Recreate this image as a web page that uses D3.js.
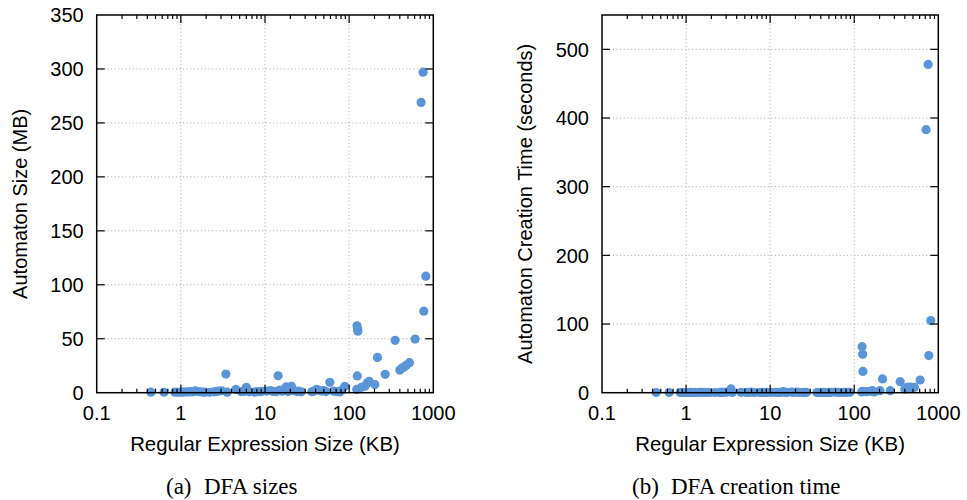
<!DOCTYPE html>
<html>
<head>
<meta charset="utf-8">
<script src="https://cdn.jsdelivr.net/npm/d3@7"></script>
<style>
  body { margin: 0; background: #fff; }
  svg text { font-family: "Liberation Sans", Arial, sans-serif; fill: #000; }
  .caption { font-family: "Liberation Serif", "Times New Roman", serif; }
</style>
</head>
<body>
<div id="chart"></div>
<script>
// regex size (KB) for each benchmark, with DFA size (MB) and DFA build time (s)
const sizesKB = [0.44, 0.63, 0.85, 0.92, 0.99, 1.05, 1.12, 1.2, 1.28, 1.35, 1.47, 1.55, 1.68, 1.8, 1.93,
  2.2, 2.5, 2.65, 2.8, 3.04, 3.43, 3.55, 4.5, 5.2, 5.6, 6.0, 6.5, 7.5, 8.0, 8.6, 9.2,
  10.4, 11.6, 12.5, 13.5, 14.3, 15, 16, 17.9, 18.8, 20.6, 22, 24, 25, 27,
  36, 38, 41, 44, 47, 50, 53, 59, 65, 71, 77, 82, 89,
  124, 126, 127, 125, 123, 140, 154, 164, 173, 202, 217, 268, 352,
  400, 425, 455, 480, 520, 608, 716, 757, 771, 815];
const dfaSizeMB = [0.5, 0.4, 0.5, 0.4, 0.6, 0.5, 0.8, 0.6, 1.0, 0.7, 1.6, 1.2, 0.9, 0.6, 0.5,
  0.4, 0.8, 1.0, 1.4, 1.8, 17.3, 0.5, 3.0, 1.0, 1.2, 5.0, 0.8, 0.6, 0.9, 1.0, 1.3,
  1.5, 2.0, 1.2, 0.9, 15.7, 2.5, 1.4, 5.5, 1.0, 6.0, 2.0, 1.0, 1.5, 0.8,
  0.9, 1.5, 3.0, 2.2, 1.5, 2.0, 1.0, 9.6, 1.5, 1.0, 0.7, 2.5, 6.0,
  62, 59, 57, 15.5, 3, 5, 6, 9, 10.5, 7.5, 32.7, 17, 48.5,
  21, 23, 24, 25.6, 27.8, 49.7, 269, 297, 75.5, 108];
const dfaTimeSec = [0.3, 0.3, 0.3, 0.3, 0.3, 0.3, 0.4, 0.3, 0.4, 0.3, 0.5, 0.4, 0.4, 0.3, 0.3,
  0.3, 0.4, 0.5, 0.6, 0.8, 5.5, 0.4, 0.6, 0.4, 0.5, 0.7, 0.3, 0.3, 0.4, 0.4, 0.4,
  0.4, 0.5, 0.4, 0.6, 1.5, 0.6, 0.5, 1.0, 0.4, 0.8, 0.5, 0.3, 0.4, 0.4,
  0.3, 0.3, 0.4, 0.4, 0.3, 0.4, 0.5, 0.8, 0.4, 0.3, 0.4, 0.5, 0.6,
  67, 56, 31, 2, 1, 1.5, 2, 3, 1, 3, 20, 3, 16,
  5, 7.8, 8, 7.8, 7.8, 18.5, 383, 478, 54, 105];

const xTickValues = [0.1, 1, 10, 100, 1000];
const xTickLabels = ["0.1", "1", "10", "100", "1000"];
const sizeTicks = [0, 50, 100, 150, 200, 250, 300, 350];
const timeTicks = [0, 100, 200, 300, 400, 500];

const width = 967;
const height = 500;
const dotColor = "#5b95d9";

const svg = d3.select("#chart")
  .append("svg")
  .attr("width", width)
  .attr("height", height);

function drawPanel(opts) {
  const { left, right, top, bottom, yMax, yTicks, yValues, yLabel, yLabelX, tag, caption, tagX, captionX } = opts;

  const x = d3.scaleLog().domain([0.1, 1000]).range([left, right]);
  const y = d3.scaleLinear().domain([0, yMax]).range([bottom, top]);

  const g = svg.append("g");

  // dotted grid at the inner major ticks
  const grid = g.append("g")
    .attr("stroke", "#b4b4b4")
    .attr("stroke-width", 1)
    .attr("stroke-dasharray", "1.2,2.4");
  grid.selectAll(".gx")
    .data(xTickValues.slice(1, -1))
    .enter().append("line")
    .attr("x1", d => x(d)).attr("x2", d => x(d))
    .attr("y1", bottom).attr("y2", top);
  grid.selectAll(".gy")
    .data(yTicks.filter(d => d > 0 && y(d) > top + 1))
    .enter().append("line")
    .attr("x1", left).attr("x2", right)
    .attr("y1", d => y(d)).attr("y2", d => y(d));

  // points
  const pts = sizesKB.map((s, i) => ({ s: s, v: yValues[i] }));
  g.append("g").selectAll("circle")
    .data(pts)
    .enter().append("circle")
    .attr("cx", d => x(d.s))
    .attr("cy", d => y(d.v))
    .attr("r", 4.6)
    .attr("fill", dotColor);

  // ticks, inward, mirrored on all sides
  const ticks = g.append("g").attr("stroke", "#000").attr("stroke-width", 1.2);
  const logTicks = x.ticks().filter(d => d > 0.1 * 1.001 && d < 1000 * 0.999);
  logTicks.forEach(d => {
    const major = Math.abs(Math.log10(d) - Math.round(Math.log10(d))) < 1e-6;
    const len = major ? 8 : 4;
    ticks.append("line").attr("x1", x(d)).attr("x2", x(d)).attr("y1", bottom).attr("y2", bottom - len);
    ticks.append("line").attr("x1", x(d)).attr("x2", x(d)).attr("y1", top).attr("y2", top + len);
  });
  yTicks.filter(d => d > 0 && y(d) > top + 1).forEach(d => {
    ticks.append("line").attr("x1", left).attr("x2", left + 8).attr("y1", y(d)).attr("y2", y(d));
    ticks.append("line").attr("x1", right).attr("x2", right - 8).attr("y1", y(d)).attr("y2", y(d));
  });

  // frame
  g.append("rect")
    .attr("x", left).attr("y", top)
    .attr("width", right - left).attr("height", bottom - top)
    .attr("fill", "none")
    .attr("stroke", "#000")
    .attr("stroke-width", 1.5);

  // tick labels
  g.append("g").selectAll("text")
    .data(xTickValues)
    .enter().append("text")
    .attr("x", d => x(d))
    .attr("y", 420)
    .attr("text-anchor", "middle")
    .style("font-size", "20px")
    .text((d, i) => xTickLabels[i]);
  g.append("g").selectAll("text")
    .data(yTicks)
    .enter().append("text")
    .attr("x", left - 13)
    .attr("y", d => y(d))
    .attr("dy", "0.36em")
    .attr("text-anchor", "end")
    .style("font-size", "20px")
    .text(d => d);

  // axis titles
  g.append("text")
    .attr("x", (left + right) / 2)
    .attr("y", 451)
    .attr("text-anchor", "middle")
    .style("font-size", "20.4px")
    .text("Regular Expression Size (KB)");
  g.append("text")
    .attr("transform", `translate(${yLabelX},${(top + bottom) / 2}) rotate(-90)`)
    .attr("text-anchor", "middle")
    .style("font-size", "20px")
    .text(yLabel);

  // sub-caption
  g.append("text")
    .attr("class", "caption")
    .attr("x", tagX).attr("y", 494)
    .style("font-size", "23px")
    .text(tag);
  g.append("text")
    .attr("class", "caption")
    .attr("x", captionX).attr("y", 494)
    .style("font-size", "23px")
    .text(caption);
}

drawPanel({
  left: 96.7, right: 433.3, top: 15, bottom: 392.7,
  yMax: 350, yTicks: sizeTicks, yValues: dfaSizeMB,
  yLabel: "Automaton Size (MB)", yLabelX: 27,
  tag: "(a)", caption: "DFA sizes", tagX: 166, captionX: 204
});

drawPanel({
  left: 602, right: 938.3, top: 15, bottom: 392.7,
  yMax: 550, yTicks: timeTicks, yValues: dfaTimeSec,
  yLabel: "Automaton Creation Time (seconds)", yLabelX: 532,
  tag: "(b)", caption: "DFA creation time", tagX: 632, captionX: 671
});
</script>
</body>
</html>
